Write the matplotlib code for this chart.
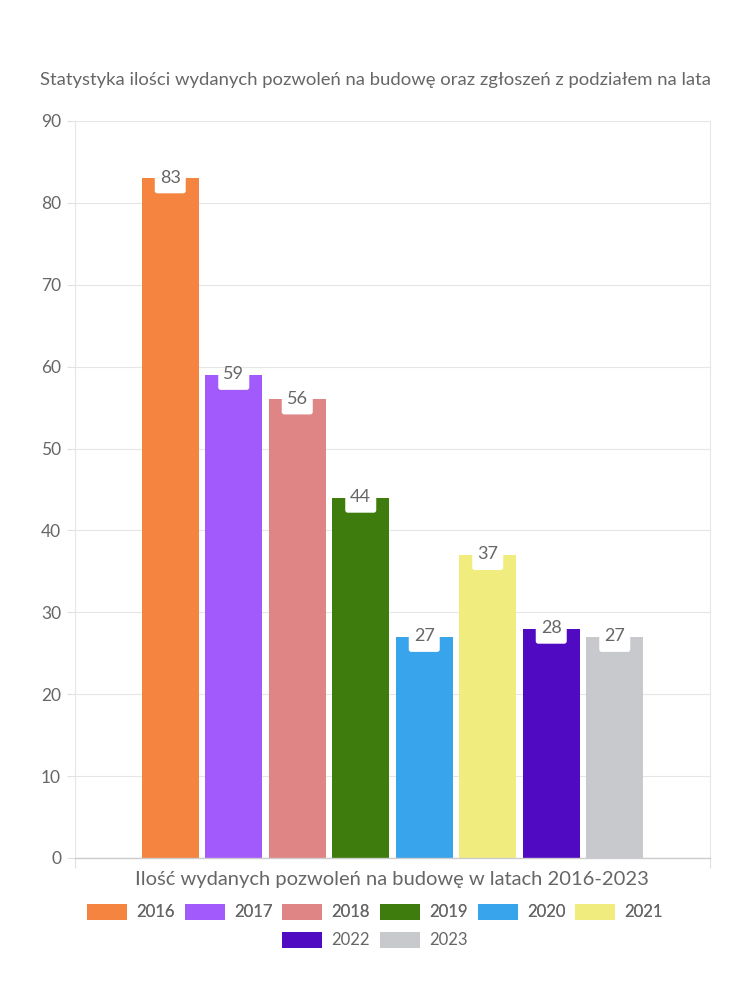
import matplotlib
matplotlib.use("Agg")
import matplotlib.pyplot as plt
from matplotlib.patches import FancyBboxPatch, Patch

plt.rcParams['font.family'] = ['Lato', 'DejaVu Sans']

title = "Statystyka ilości wydanych pozwoleń na budowę oraz zgłoszeń z podziałem na lata"
xlabel = "Ilość wydanych pozwoleń na budowę w latach 2016-2023"
years = ["2016", "2017", "2018", "2019", "2020", "2021", "2022", "2023"]
values = [83, 59, 56, 44, 27, 37, 28, 27]
colors = ["#F4843F", "#A25AFD", "#E08585", "#3E7D0D", "#38A4EC", "#F0EC7E", "#500AC2", "#C8C9CD"]
yticks = [0, 10, 20, 30, 40, 50, 60, 70, 80, 90]

TXT = "#666666"
fig = plt.figure(figsize=(7.5, 10), dpi=100)
W, H = 750, 1000
ax = fig.add_axes([75 / W, 1 - 858 / H, (710 - 75) / W, (858 - 121) / H])

n = len(values)
step = 0.1
width = 0.09
xs = [(i - (n - 1) / 2) * step for i in range(n)]
bars = ax.bar(xs, values, width=width, color=colors, zorder=2)

ax.set_xlim(-0.5, 0.5)
ax.set_ylim(0, 90)
ax.set_yticks(yticks)
ax.set_yticklabels([str(t) for t in yticks])
ax.tick_params(axis='y', length=6, width=0.8, color="#e0e0e0", labelsize=12.5, labelcolor=TXT, pad=4)
ax.set_xticks([-0.5, 0.5])
ax.set_xticklabels(["", ""])
ax.tick_params(axis='x', length=7, width=0.8, color="#e0e0e0")
ax.grid(axis='y', color="#e6e6e6", linewidth=0.8, zorder=0)
for s in ['left', 'right']:
    ax.spines[s].set_color("#e6e6e6")
    ax.spines[s].set_linewidth(0.8)
ax.spines['top'].set_visible(False)
ax.spines['bottom'].set_color("#cccccc")
ax.spines['bottom'].set_linewidth(1.0)
ax.spines['bottom'].set_zorder(3)

ypp = 90 / (858 - 121)
xpp = 1.0 / (710 - 75)
for x, v in zip(xs, values):
    bw = 31 * xpp
    top = v + 4 * ypp
    bot = v - 15 * ypp
    box = FancyBboxPatch((x - bw / 2, bot), bw, top - bot,
                         boxstyle="round,pad=0,rounding_size=0.004",
                         mutation_aspect=ypp / xpp,
                         facecolor="white", edgecolor="none", zorder=3)
    ax.add_patch(box)
    ax.text(x, v + 0.8 * ypp, str(v), ha='center', va='center', fontsize=13,
            color=TXT, zorder=4)

fig.text(375 / W, 1 - 80 / H, title, ha='center', va='center', fontsize=13.3, color=TXT)
fig.text(392 / W, 1 - 880 / H, xlabel, ha='center', va='center', fontsize=14.5, color=TXT)

handles = [Patch(facecolor=c, edgecolor='none') for c in colors]
kw = dict(frameon=False, handlelength=2.4, handleheight=1.15, handletextpad=0.55,
          columnspacing=0.6, fontsize=12, labelcolor=TXT, loc='center')
leg1 = fig.legend(handles[:6], years[:6], ncol=6, bbox_to_anchor=(375 / W, 1 - 912 / H), **kw)
fig.add_artist(leg1)
leg2 = fig.legend(handles[6:], years[6:], ncol=2, bbox_to_anchor=(375 / W, 1 - 940 / H), **kw)

fig.savefig("out.png", dpi=100, facecolor="white")
